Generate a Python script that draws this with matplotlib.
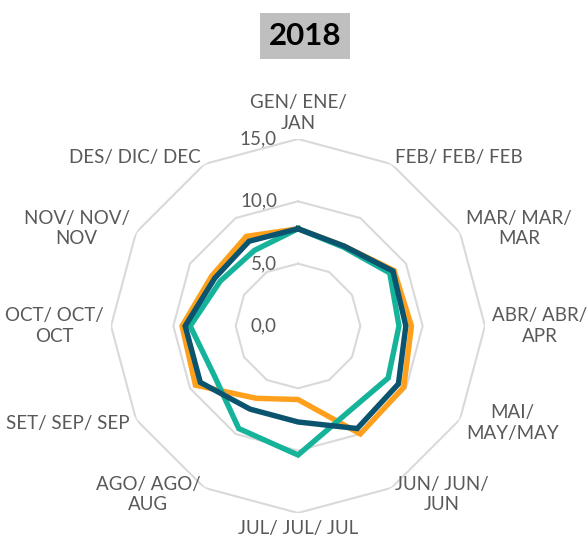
import numpy as np
import matplotlib.pyplot as plt

plt.rcParams['font.family'] = ['Lato', 'DejaVu Sans']

months = ["GEN/ ENE/\nJAN", "FEB/ FEB/ FEB", "MAR/ MAR/\nMAR", "ABR/ ABR/\nAPR",
          "MAI/\nMAY/MAY", "JUN/ JUN/\nJUN", "JUL/ JUL/ JUL", "AGO/ AGO/\nAUG",
          "SET/ SEP/ SEP", "OCT/ OCT/\nOCT", "NOV/ NOV/\nNOV", "DES/ DIC/ DEC"]

values_a = [7.8, 7.4, 8.9, 9.1, 9.8, 10.0, 5.9, 6.7, 9.5, 9.3, 8.0, 8.3]
values_b = [7.8, 7.3, 8.5, 8.1, 8.35, 8.0, 10.35, 9.5, 7.8, 8.65, 7.2, 7.0]
values_c = [7.8, 7.4, 8.8, 8.65, 9.3, 9.5, 7.7, 7.7, 9.05, 9.05, 7.7, 7.85]

ring_values = [0, 5, 10, 15]
ring_labels = ["0,0", "5,0", "10,0", "15,0"]

colors = ["#FFA01C", "#14B39A", "#0B5470"]
text_gray = "#595959"


def closed(vals):
    return list(vals) + [vals[0]]


n = len(months)
theta = np.linspace(0, 2 * np.pi, n, endpoint=False)
theta_c = closed(theta)

fig = plt.figure(figsize=(5.88, 5.48), dpi=100)
ax = fig.add_axes([0.1888, 0.0639, 0.636, 0.6825], projection="polar")
ax.set_theta_offset(np.pi / 2)
ax.set_theta_direction(-1)
ax.set_ylim(0, 15)
ax.grid(False)
ax.spines["polar"].set_visible(False)
ax.set_xticks([])
ax.set_yticks([])
ax.patch.set_alpha(0)

# polygon gridlines
for rv in ring_values[1:]:
    ax.plot(theta_c, [rv] * (n + 1), color="#D9D9D9", lw=1.5, zorder=1)

for vals, col in zip([values_a, values_b, values_c], colors):
    ax.plot(theta_c, closed(vals), color=col, lw=3.9, zorder=3,
            solid_joinstyle="miter")

# radial value labels
for rv, lab in zip(ring_values, ring_labels):
    ax.annotate(lab, xy=(0, rv), xytext=(-21, 0), textcoords="offset pixels",
                ha="right", va="center", fontsize=13.5, color=text_gray,
                annotation_clip=False)

# category labels
for t, lab in zip(theta, months):
    s = np.sin(t)
    c = np.cos(t)
    if abs(s) < 0.1:
        ha = "center"
        va = "bottom" if c > 0 else "top"
    else:
        ha = "left" if s > 0 else "right"
        va = "center"
    ax.text(t, 15.6, lab, ha=ha, va=va, ma="center", fontsize=13.5,
            color=text_gray, linespacing=1.25)

fig.text(305 / 588, 1 - 36 / 548, "2018", ha="center", va="center",
         fontsize=22.5, fontweight="bold", color="black",
         bbox=dict(facecolor="#BFBFBF", edgecolor="none", pad=6.5))

fig.savefig("out.png", dpi=100)
